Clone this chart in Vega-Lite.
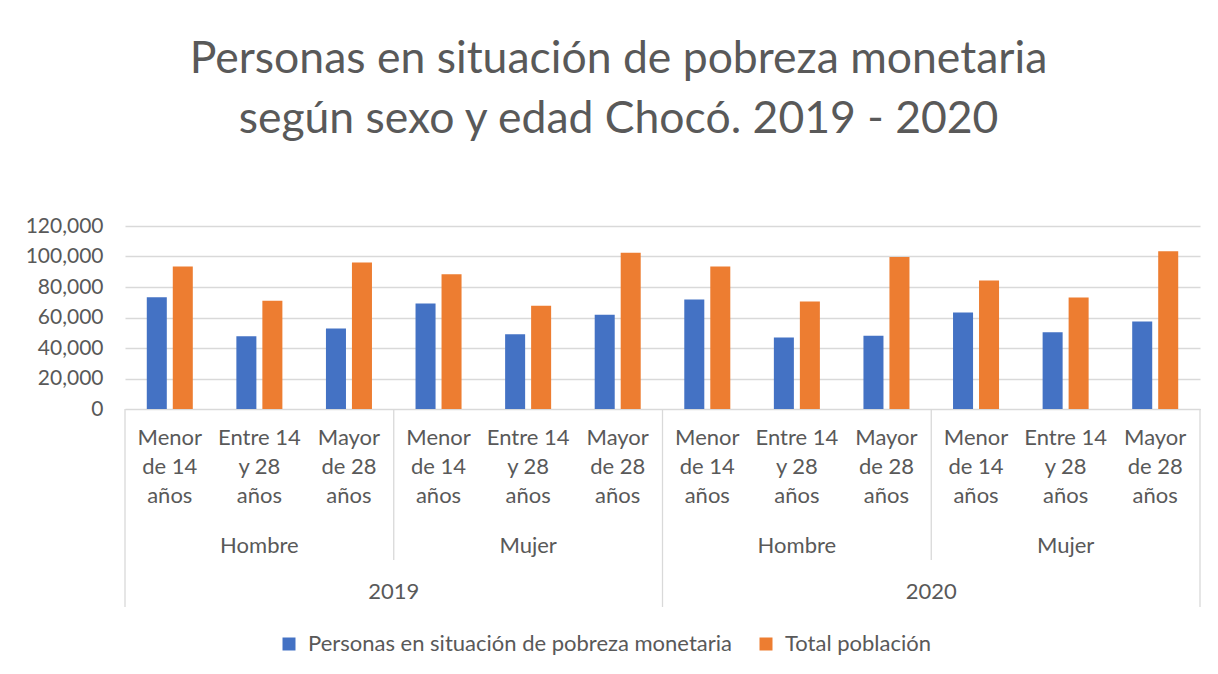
{
  "$schema": "https://vega.github.io/schema/vega-lite/v6.json",
  "width": 1075,
  "height": 183,
  "autosize": "none",
  "padding": {"left": 125, "top": 226, "right": 18, "bottom": 265},
  "background": "white",
  "title": {
    "text": ["Personas en situación de pobreza monetaria", "según sexo y edad Chocó. 2019 - 2020"],
    "font": "Lato",
    "fontSize": 44.5,
    "fontWeight": "normal",
    "color": "#595959",
    "lineHeight": 60,
    "anchor": "middle",
    "dx": -44,
    "offset": 73
  },
  "datasets": {
    "bars": [
      {"year": "2019", "sex": "Hombre", "age": "Menor de 14 años", "cat": "2019-Hombre-Menor", "series": "Personas en situación de pobreza monetaria", "value": 73300},
      {"year": "2019", "sex": "Hombre", "age": "Menor de 14 años", "cat": "2019-Hombre-Menor", "series": "Total población", "value": 93500},
      {"year": "2019", "sex": "Hombre", "age": "Entre 14 y 28 años", "cat": "2019-Hombre-Entre", "series": "Personas en situación de pobreza monetaria", "value": 47700},
      {"year": "2019", "sex": "Hombre", "age": "Entre 14 y 28 años", "cat": "2019-Hombre-Entre", "series": "Total población", "value": 71000},
      {"year": "2019", "sex": "Hombre", "age": "Mayor de 28 años", "cat": "2019-Hombre-Mayor", "series": "Personas en situación de pobreza monetaria", "value": 52800},
      {"year": "2019", "sex": "Hombre", "age": "Mayor de 28 años", "cat": "2019-Hombre-Mayor", "series": "Total población", "value": 96100},
      {"year": "2019", "sex": "Mujer", "age": "Menor de 14 años", "cat": "2019-Mujer-Menor", "series": "Personas en situación de pobreza monetaria", "value": 69200},
      {"year": "2019", "sex": "Mujer", "age": "Menor de 14 años", "cat": "2019-Mujer-Menor", "series": "Total población", "value": 88300},
      {"year": "2019", "sex": "Mujer", "age": "Entre 14 y 28 años", "cat": "2019-Mujer-Entre", "series": "Personas en situación de pobreza monetaria", "value": 49000},
      {"year": "2019", "sex": "Mujer", "age": "Entre 14 y 28 años", "cat": "2019-Mujer-Entre", "series": "Total población", "value": 67700},
      {"year": "2019", "sex": "Mujer", "age": "Mayor de 28 años", "cat": "2019-Mujer-Mayor", "series": "Personas en situación de pobreza monetaria", "value": 61800},
      {"year": "2019", "sex": "Mujer", "age": "Mayor de 28 años", "cat": "2019-Mujer-Mayor", "series": "Total población", "value": 102500},
      {"year": "2020", "sex": "Hombre", "age": "Menor de 14 años", "cat": "2020-Hombre-Menor", "series": "Personas en situación de pobreza monetaria", "value": 71800},
      {"year": "2020", "sex": "Hombre", "age": "Menor de 14 años", "cat": "2020-Hombre-Menor", "series": "Total población", "value": 93500},
      {"year": "2020", "sex": "Hombre", "age": "Entre 14 y 28 años", "cat": "2020-Hombre-Entre", "series": "Personas en situación de pobreza monetaria", "value": 46900},
      {"year": "2020", "sex": "Hombre", "age": "Entre 14 y 28 años", "cat": "2020-Hombre-Entre", "series": "Total población", "value": 70500},
      {"year": "2020", "sex": "Hombre", "age": "Mayor de 28 años", "cat": "2020-Hombre-Mayor", "series": "Personas en situación de pobreza monetaria", "value": 48000},
      {"year": "2020", "sex": "Hombre", "age": "Mayor de 28 años", "cat": "2020-Hombre-Mayor", "series": "Total población", "value": 99600},
      {"year": "2020", "sex": "Mujer", "age": "Menor de 14 años", "cat": "2020-Mujer-Menor", "series": "Personas en situación de pobreza monetaria", "value": 63300},
      {"year": "2020", "sex": "Mujer", "age": "Menor de 14 años", "cat": "2020-Mujer-Menor", "series": "Total población", "value": 84300},
      {"year": "2020", "sex": "Mujer", "age": "Entre 14 y 28 años", "cat": "2020-Mujer-Entre", "series": "Personas en situación de pobreza monetaria", "value": 50300},
      {"year": "2020", "sex": "Mujer", "age": "Entre 14 y 28 años", "cat": "2020-Mujer-Entre", "series": "Total población", "value": 73100},
      {"year": "2020", "sex": "Mujer", "age": "Mayor de 28 años", "cat": "2020-Mujer-Mayor", "series": "Personas en situación de pobreza monetaria", "value": 57400},
      {"year": "2020", "sex": "Mujer", "age": "Mayor de 28 años", "cat": "2020-Mujer-Mayor", "series": "Total población", "value": 103400}
    ],
    "sexLabels": [
      {"label": "Hombre", "cat": "2019-Hombre-Entre"},
      {"label": "Mujer", "cat": "2019-Mujer-Entre"},
      {"label": "Hombre", "cat": "2020-Hombre-Entre"},
      {"label": "Mujer", "cat": "2020-Mujer-Entre"}
    ],
    "yearLabels": [
      {"label": "2019", "cat": "2019-Mujer-Menor"},
      {"label": "2020", "cat": "2020-Mujer-Menor"}
    ],
    "longSepStart": [
      {"cat": "2019-Hombre-Menor"},
      {"cat": "2020-Hombre-Menor"}
    ],
    "longSepEnd": [
      {"cat": "2020-Mujer-Mayor"}
    ],
    "shortSep": [
      {"cat": "2019-Mujer-Menor"},
      {"cat": "2020-Mujer-Menor"}
    ]
  },
  "encoding": {
    "x": {
      "field": "cat",
      "type": "nominal",
      "scale": {
        "domain": ["2019-Hombre-Menor", "2019-Hombre-Entre", "2019-Hombre-Mayor", "2019-Mujer-Menor", "2019-Mujer-Entre", "2019-Mujer-Mayor", "2020-Hombre-Menor", "2020-Hombre-Entre", "2020-Hombre-Mayor", "2020-Mujer-Menor", "2020-Mujer-Entre", "2020-Mujer-Mayor"],
        "paddingInner": 0,
        "paddingOuter": 0
      },
      "axis": {
        "title": null,
        "labelAngle": 0,
        "ticks": false,
        "grid": false,
        "domain": true,
        "domainColor": "#d9d9d9",
        "domainWidth": 1,
        "labelFont": "Lato",
        "labelFontSize": 22,
        "labelColor": "#595959",
        "labelLineHeight": 29,
        "labelPadding": 18,
        "labelBaseline": "top",
        "labelExpr": "indexof(datum.value,'Menor')>=0 ? ['Menor','de 14','años'] : indexof(datum.value,'Entre')>=0 ? ['Entre 14','y 28','años'] : ['Mayor','de 28','años']"
      }
    },
    "y": {
      "type": "quantitative",
      "scale": {"domain": [0, 120000], "nice": false},
      "axis": {
        "title": null,
        "values": [0, 20000, 40000, 60000, 80000, 100000, 120000],
        "format": ",.0f",
        "labelOverlap": false,
        "ticks": false,
        "domain": false,
        "grid": true,
        "gridColor": "#d9d9d9",
        "gridWidth": 1.3,
        "labelFont": "Lato",
        "labelFontSize": 21,
        "labelColor": "#595959",
        "labelPadding": 22
      }
    }
  },
  "layer": [
    {
      "data": {"name": "bars"},
      "mark": {"type": "bar"},
      "encoding": {
        "xOffset": {
          "field": "series",
          "type": "nominal",
          "scale": {"domain": ["Personas en situación de pobreza monetaria", "Total población"], "paddingInner": 0.23, "paddingOuter": 0.838}
        },
        "y": {"field": "value", "type": "quantitative"},
        "color": {
          "field": "series",
          "type": "nominal",
          "scale": {"domain": ["Personas en situación de pobreza monetaria", "Total población"], "range": ["#4472C4", "#ED7D31"]},
          "legend": {
            "title": null,
            "orient": "none",
            "legendX": 153,
            "legendY": 407,
            "direction": "horizontal",
            "symbolType": "square",
            "symbolSize": 169,
            "symbolStrokeWidth": 0,
            "labelFont": "Lato",
            "labelFontSize": 22,
            "labelColor": "#595959",
            "labelOffset": 8,
            "labelLimit": 600,
            "columnPadding": 23
          }
        }
      }
    },
    {
      "data": {"name": "sexLabels"},
      "mark": {"type": "text", "font": "Lato", "fontSize": 22, "color": "#595959", "baseline": "middle", "align": "center", "dy": 137},
      "encoding": {
        "y": {"datum": 0, "type": "quantitative"},
        "text": {"field": "label"}
      }
    },
    {
      "data": {"name": "yearLabels"},
      "mark": {"type": "text", "font": "Lato", "fontSize": 22, "color": "#595959", "baseline": "middle", "align": "center", "dy": 183},
      "encoding": {
        "x": {"field": "cat", "type": "nominal", "bandPosition": 0},
        "y": {"datum": 0, "type": "quantitative"},
        "text": {"field": "label"}
      }
    },
    {
      "data": {"name": "longSepStart"},
      "mark": {"type": "rule", "color": "#d9d9d9", "strokeWidth": 1.3, "y2Offset": 198},
      "encoding": {
        "x": {"field": "cat", "type": "nominal", "bandPosition": 0},
        "y": {"datum": 0, "type": "quantitative"},
        "y2": {"datum": 0}
      }
    },
    {
      "data": {"name": "longSepEnd"},
      "mark": {"type": "rule", "color": "#d9d9d9", "strokeWidth": 1.3, "y2Offset": 198},
      "encoding": {
        "x": {"field": "cat", "type": "nominal", "bandPosition": 1},
        "y": {"datum": 0, "type": "quantitative"},
        "y2": {"datum": 0}
      }
    },
    {
      "data": {"name": "shortSep"},
      "mark": {"type": "rule", "color": "#d9d9d9", "strokeWidth": 1.3, "y2Offset": 151},
      "encoding": {
        "x": {"field": "cat", "type": "nominal", "bandPosition": 0},
        "y": {"datum": 0, "type": "quantitative"},
        "y2": {"datum": 0}
      }
    }
  ],
  "config": {
    "view": {"stroke": null},
    "font": "Lato"
  }
}
